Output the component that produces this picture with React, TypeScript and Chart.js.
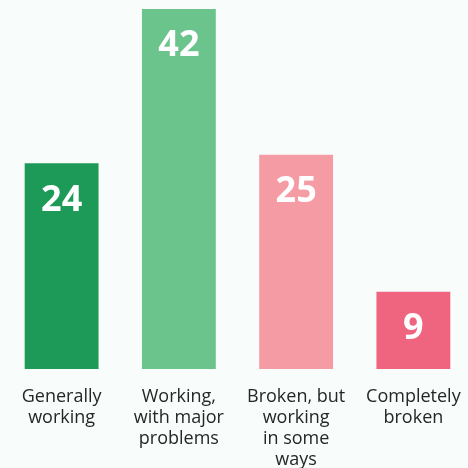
import React, { useEffect, useRef } from "react";
import { Chart, registerables } from "chart.js";

Chart.register(...registerables);

const categories: string[][] = [
  ["Generally", "working"],
  ["Working,", "with major", "problems"],
  ["Broken, but", "working", "in some", "ways"],
  ["Completely", "broken"],
];
const values: number[] = [24, 42, 25, 9];
const barColors: string[] = ["#1d9a57", "#6cc48d", "#f59ba3", "#ef647e"];
const yMax = 42;

const BG = "#f8fdfc";

const valueLabelPlugin = {
  id: "valueLabels",
  afterDatasetsDraw(chart: any) {
    const ctx = chart.ctx;
    const meta = chart.getDatasetMeta(0);
    ctx.save();
    ctx.fillStyle = "#ffffff";
    ctx.font = "bold 36px 'Open Sans'";
    ctx.textAlign = "center";
    ctx.textBaseline = "middle";
    meta.data.forEach((el: any, i: number) => {
      ctx.fillText(String(values[i]), el.x, el.y + 37);
    });
    ctx.restore();
  },
};

const bgPlugin = {
  id: "bg",
  beforeDraw(chart: any) {
    const ctx = chart.ctx;
    ctx.save();
    ctx.fillStyle = BG;
    ctx.fillRect(0, 0, chart.width, chart.height);
    ctx.restore();
  },
};

export default function App() {
  const ref = useRef<HTMLCanvasElement>(null);
  useEffect(() => {
    document.body.style.margin = "0";
    document.body.style.overflow = "hidden";
    document.documentElement.style.overflow = "hidden";
    document.body.style.background = BG;
    const chart = new Chart(ref.current!, {
      type: "bar",
      data: {
        labels: categories,
        datasets: [
          {
            data: values,
            backgroundColor: barColors,
            barPercentage: 0.63,
            categoryPercentage: 1,
          },
        ],
      },
      options: {
        animation: false,
        responsive: false,
        maintainAspectRatio: false,
        layout: { padding: { top: 9, left: 3, right: 0, bottom: 0 } },
        plugins: { legend: { display: false }, tooltip: { enabled: false } },
        scales: {
          x: {
            grid: { display: false },
            border: { display: false },
            ticks: {
              color: "#262626",
              font: { family: "'Open Sans'", size: 18, lineHeight: 1.18 },
              padding: 9,
              maxRotation: 0,
              autoSkip: false,
            },
            afterFit: (scale: any) => {
              scale.height = 99;
            },
          },
          y: {
            display: false,
            min: 0,
            max: yMax,
          },
        },
      },
      plugins: [bgPlugin, valueLabelPlugin],
    });
    return () => chart.destroy();
  }, []);
  return (
    <div style={{ width: 472, height: 468, background: BG }}>
      <canvas ref={ref} width={472} height={468} style={{ display: "block" }} />
    </div>
  );
}
